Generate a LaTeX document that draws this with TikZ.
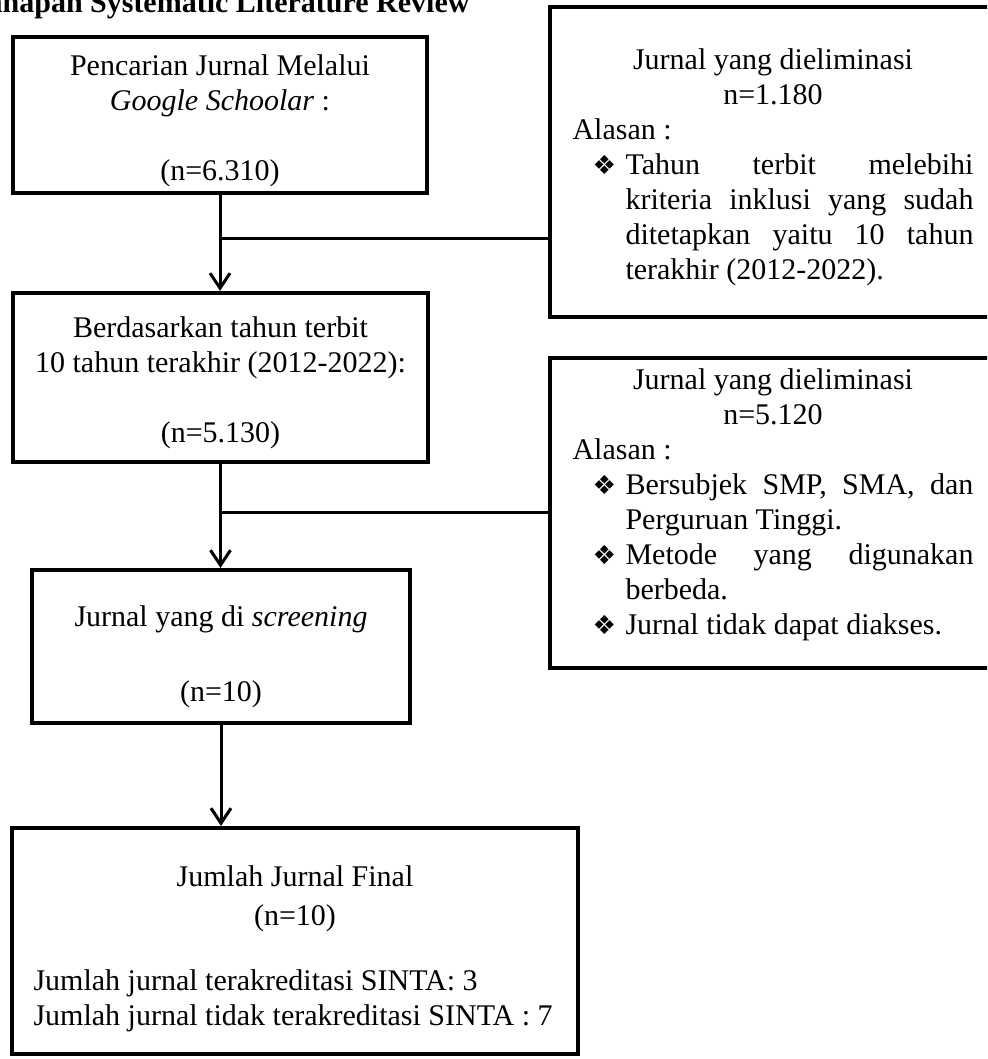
\documentclass[tikz,border=0pt]{standalone}
\usepackage{fontspec}
\setmainfont{Liberation Serif}
\newfontfamily\dejavu{DejaVu Sans}
\usetikzlibrary{arrows.meta}
\hbadness=10000
\setlength{\parindent}{0pt}
\newcommand{\bitem}[1]{\par\noindent\hangindent=21.2pt\hangafter=1\hspace*{8pt}\makebox[13.2pt][l]{\dejavu\fontsize{10.5pt}{10pt}\selectfont ❖}#1\par}
\tikzset{
  box/.style={draw, line width=1.7pt, inner sep=0pt, rectangle},
  conn/.style={line width=1.2pt, -{Straight Barb[length=6pt,width=8pt]}},
  plain/.style={line width=1.2pt},
  ctext/.style={inner sep=0pt, align=center, font=\fontsize{12pt}{14pt}\selectfont},
  ltext/.style={inner sep=0pt, align=left, font=\fontsize{12pt}{14pt}\selectfont},
  rtext/.style={inner sep=0pt, text width=160.4pt, align=justify, font=\fontsize{12pt}{14pt}\selectfont},
}
\begin{document}
\begin{tikzpicture}[x=0.4pt,y=-0.4pt]
\useasboundingbox (0,0) rectangle (987,1059);
\clip (0,0) rectangle (987,1059);
% title
\node[inner sep=0pt, anchor=base east, font=\bfseries\fontsize{12pt}{14pt}\selectfont] (title) at (470,13) {Tahapan Systematic Literature Review};
% boxes
\node[box, minimum width=414*0.4pt, minimum height=156*0.4pt] (b1) at (220,115) {};
\node[box, minimum width=415*0.4pt, minimum height=169*0.4pt] (b2) at (220.5,377.5) {};
\node[box, minimum width=378*0.4pt, minimum height=153*0.4pt] (b3) at (221,646.5) {};
\node[box, minimum width=566*0.4pt, minimum height=226*0.4pt] (b4) at (295,941) {};
\node[box, minimum width=455*0.4pt, minimum height=310*0.4pt] (r1) at (777.5,162) {};
\node[box, minimum width=455*0.4pt, minimum height=310*0.4pt] (r2) at (777.5,513) {};
% texts
\node[ctext, anchor=north] (t1) at (220,54) {Pencarian Jurnal Melalui\\ \textit{Google Schoolar} :\\[14pt] (n=6.310)};
\node[ctext, anchor=north] (t2) at (220.5,316) {Berdasarkan tahun terbit\\ 10 tahun terakhir (2012-2022):\\[14pt] (n=5.130)};
\node[ctext, anchor=north] (t3) at (221,605) {Jurnal yang di \textit{screening}\\[16pt] (n=10)};
\node[ctext, anchor=north] (t4) at (295,865) {Jumlah Jurnal Final\\[1.6pt] (n=10)};
\node[ltext, anchor=north west] (t5) at (33,969) {Jumlah jurnal terakreditasi SINTA: 3\\ Jumlah jurnal tidak terakreditasi SINTA : 7};
\node[rtext, anchor=north west] (rt1) at (572,48) {{\centering Jurnal yang dieliminasi\par n=1.180\par}\noindent Alasan :\bitem{Tahun terbit melebihi\linebreak kriteria inklusi yang sudah\linebreak ditetapkan yaitu 10 tahun\linebreak terakhir (2012-2022).}};
\node[rtext, anchor=north west] (rt2) at (572,368) {{\centering Jurnal yang dieliminasi\par n=5.120\par}\noindent Alasan :\bitem{Bersubjek SMP, SMA, dan\linebreak Perguruan Tinggi.}\bitem{Metode yang digunakan\linebreak berbeda.}\bitem{Jurnal tidak dapat diakses.}};
% connectors
\coordinate (j1) at (220,238);
\coordinate (j2) at (220.5,512);
\draw[conn] (b1.south) -- (b1.south |- b2.north);
\draw[plain] (j1) -- (j1 -| r1.west);
\draw[conn] (b2.south) -- (b2.south |- b3.north);
\draw[plain] (j2) -- (j2 -| r2.west);
\draw[conn] (b3.south) -- (b3.south |- b4.north);
\end{tikzpicture}
\end{document}
